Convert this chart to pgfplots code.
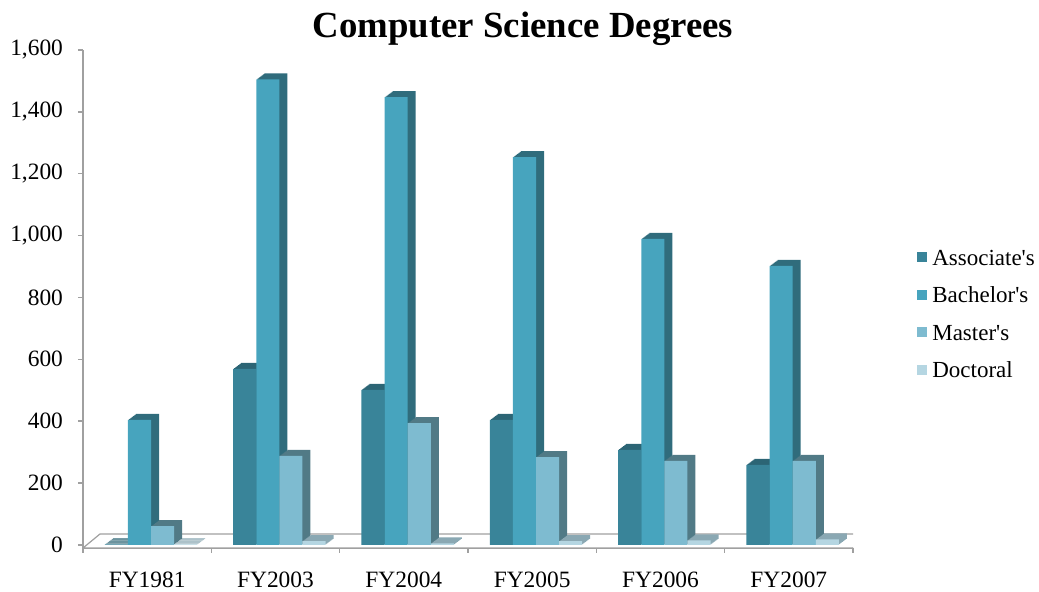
\documentclass[border=0pt]{standalone}
\usepackage{fontspec}
\setmainfont{Liberation Serif}
\usepackage{pgfplots}
\usepackage{pgfplotstable}
\pgfplotsset{compat=1.18}

% front faces
\definecolor{assocF}{RGB}{57,132,153}
\definecolor{bachF}{RGB}{71,164,190}
\definecolor{mastF}{RGB}{126,187,208}
\definecolor{docF}{RGB}{181,214,226}
% side and top faces
\definecolor{assocS}{RGB}{44,101,117}
\definecolor{bachS}{RGB}{48,108,124}
\definecolor{mastS}{RGB}{81,122,134}
\definecolor{docS}{RGB}{138,168,179}
\definecolor{axisgray}{RGB}{160,160,160}

\pgfplotstableread{
x assoc bach mast doc
0 2   404  61  2
1 569 1505 288 12
2 501 1448 394 5
3 404 1254 284 12
4 307 989  272 15
5 259 902  272 18
}\degrees

\pgfplotsset{
  sqlegend/.style={legend image code/.code={%
    \fill[##1] (0pt,-1.2pt) rectangle (5pt,3.8pt); \path (7.5pt,0pt);}},
}

% #1 column, #2 bar shift, #3 side colour, #4 front colour, #5 legend text
\newcommand{\degreeseries}[5]{%
  \pgfplotsinvokeforeach{1,...,8}{%
    \addplot[ybar, bar width=0.18, bar shift=#2, draw=none, fill=#3, forget plot,
      xshift={##1*0.5pt}, yshift={##1*0.375pt}] table[x=x,y=#1]{\degrees};
  }
  \addplot[ybar, bar width=0.18, bar shift=#2, draw=none, fill=#4, sqlegend]
    table[x=x,y=#1]{\degrees};
  \addlegendentry{#5}
}

\begin{document}
\begin{tikzpicture}
\begin{axis}[
  scale only axis,
  width=385pt, height=249pt,
  xmin=-0.5, xmax=5.5,
  ymin=-10, ymax=1600,
  axis lines*=left,
  axis line style={axisgray, line width=0.7pt},
  tick align=outside,
  xtick={0,...,5},
  xticklabels={FY1981,FY2003,FY2004,FY2005,FY2006,FY2007},
  minor xtick={-0.5,0.5,...,5.5},
  major x tick style={draw=none},
  minor x tick style={axisgray, line width=0.7pt},
  minor tick length=2.5pt,
  ytick={0,200,...,1600},
  y tick style={axisgray, line width=0.7pt},
  major tick length=2.5pt,
  /pgf/number format/1000 sep={,},
  /pgf/number format/assume math mode=true,
  yticklabel style={xshift=-4pt},
  xticklabel style={yshift=-6pt},
  tick label style={font=\fontsize{11.7}{14}\selectfont},
  title={Computer Science Degrees},
  title style={at={(axis description cs:0.5714,1)}, anchor=base, yshift=0pt,
    font=\fontsize{18.4}{22}\selectfont\bfseries},
  legend style={at={(axis description cs:1.083,0.466)}, anchor=west, draw=none,
    fill=none, inner sep=0pt, row sep=8.3pt,
    nodes={inner sep=0pt, anchor=west, text height=8pt, text depth=2.5pt},
    font=\fontsize{11.5}{14}\selectfont},
  legend cell align=left,
]
% floor of the chart
\draw[axisgray, line width=0.6pt, fill=white]
  (rel axis cs:0,0) -- ([xshift=8.5pt,yshift=7pt]rel axis cs:0,0)
  -- ([xshift=8.5pt,yshift=7pt]rel axis cs:1,0) -- (rel axis cs:1,0) -- cycle;

\degreeseries{assoc}{-0.24}{assocS}{assocF}{Associate\textquotesingle s}
\degreeseries{bach}{-0.06}{bachS}{bachF}{Bachelor\textquotesingle s}
\degreeseries{mast}{0.12}{mastS}{mastF}{Master\textquotesingle s}
\degreeseries{doc}{0.30}{docS}{docF}{Doctoral}
\end{axis}
\pgfresetboundingbox
\path (-41.5pt,-22pt) rectangle (478pt,274pt);
\end{tikzpicture}
\end{document}
